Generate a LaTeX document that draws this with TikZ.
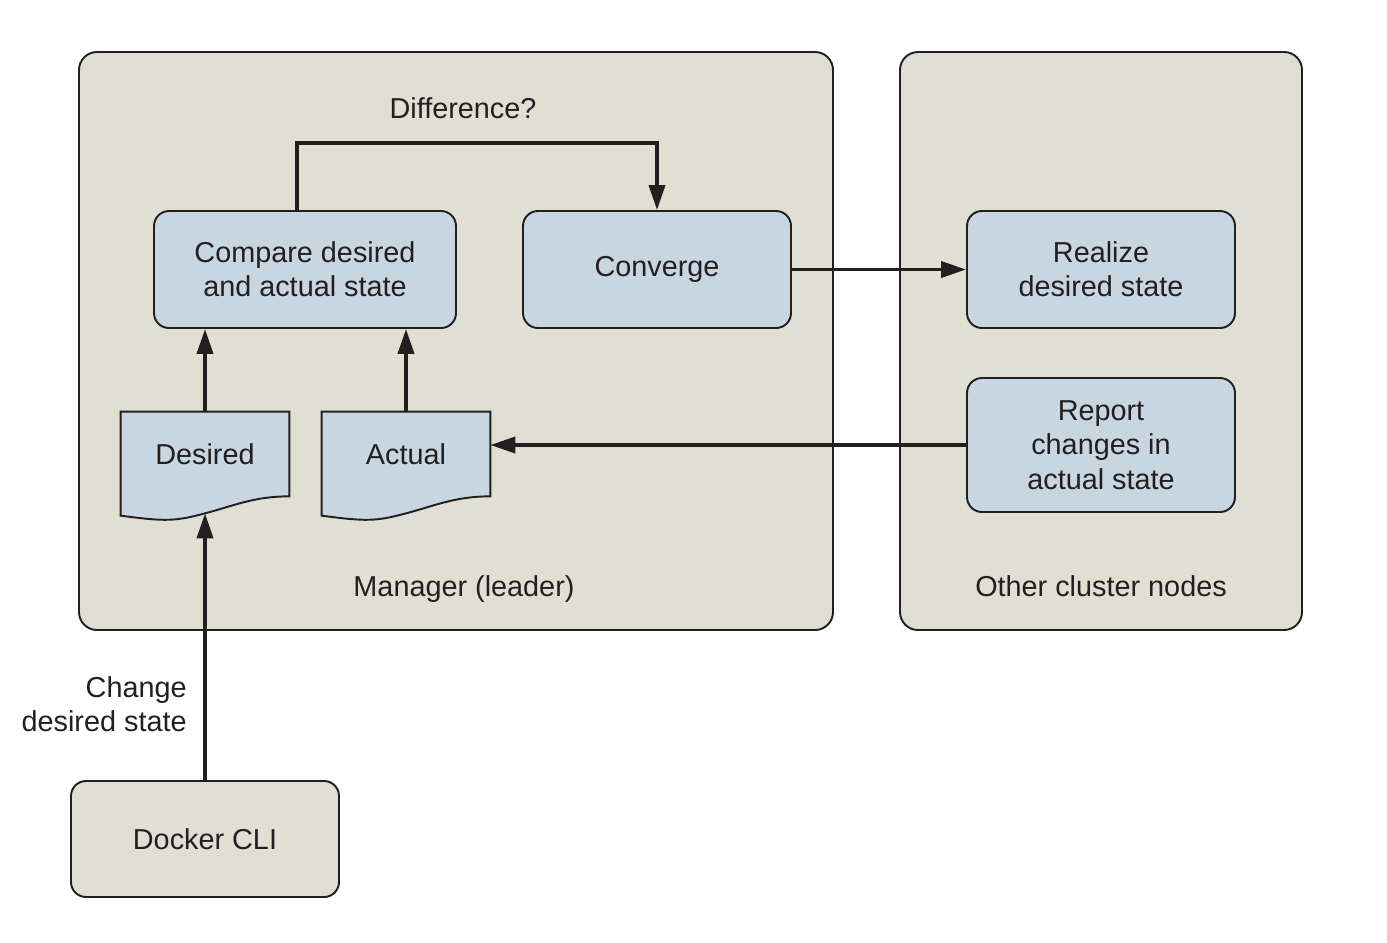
\documentclass[tikz,border=0pt]{standalone}
\usepackage{fontspec}
\setmainfont{Liberation Sans}
\usetikzlibrary{arrows.meta,positioning,calc}

\definecolor{panelfill}{RGB}{223,223,212}
\definecolor{stepfill}{RGB}{200,214,225}
\definecolor{inkline}{RGB}{35,31,32}

\begin{document}
\begin{tikzpicture}[>={Triangle[length=5mm,width=3.2mm]},
  every node/.style={font=\fontsize{16.4}{19.5}\selectfont, text=inkline},
  panel/.style={rectangle, draw=inkline, line width=1.1pt, fill=panelfill, rounded corners=3.6mm},
  stepbox/.style={rectangle, draw=inkline, line width=1.1pt, fill=stepfill, rounded corners=3mm, align=center, minimum width=5.36cm, minimum height=2.34cm, inner sep=0pt},
  docbox/.style={rectangle, minimum width=3.36cm, minimum height=1.68cm, inner sep=0pt},
  docline/.style={draw=inkline, line width=1.1pt, fill=stepfill},
  link/.style={draw=inkline, line width=2.1pt, ->}
]

  \useasboundingbox (0,0) rectangle (27.74,-18.84);

  % -- Containers --
  \node[panel, minimum width=15.08cm, minimum height=11.56cm] (manager) at (9.12,-6.82) {};
  \node[panel, minimum width=8.04cm, minimum height=11.56cm] (others) at (22.02,-6.82) {};
  \node (managerlbl) at (9.28,-11.78) {Manager (leader)};
  \node (otherslbl) at (22.02,-11.72) {Other cluster nodes};

  % -- Steps in the manager --
  \node[stepbox, minimum width=6.04cm] (compare) at (6.1,-5.39) {Compare desired\\and actual state};
  \node[stepbox] (converge) at (13.14,-5.39) {Converge};
  \node (difflbl) at (9.26,-2.16) {Difference?};

  % -- State documents --
  \node[docbox] (desired) at (4.1,-9.08) {};
  \node[docbox] (actual) at (8.12,-9.08) {};
  \foreach \d in {desired,actual}
    \draw[docline] (\d.south east) -- (\d.north east) -- (\d.north west) -- ++(0,-2.08)
      .. controls +(0.9,-0.12) and +(-0.6,-0.16) .. ([yshift=-3.4mm]\d.south)
      .. controls +(0.6,0.16) and +(-0.7,0) .. (\d.south east) -- cycle;
  \node at (desired) {Desired};
  \node at (actual) {Actual};

  % -- Other nodes --
  \node[stepbox] (realize) at (22.02,-5.39) {Realize\\desired state};
  \node[stepbox, minimum height=2.68cm] (report) at (22.02,-8.9) {Report\\changes in\\actual state};

  % -- CLI --
  \node[stepbox, fill=panelfill, minimum height=2.32cm] (cli) at (4.1,-16.78) {Docker CLI};
  \node[anchor=east, align=right, inner sep=0pt] (changelbl) at (3.74,-14.08) {Change\\desired state};

  % -- Connectors --
  \draw[link] ([xshift=-1.6mm]compare.north) -- ++(0,1.34) -| (converge.north);
  \draw[link] (converge.east) -- (realize.west);
  \draw[link] (report.west) -- (report.west -| actual.east);
  \draw[link] (desired.north) -- (desired.north |- compare.south);
  \draw[link] (actual.north) -- (actual.north |- compare.south);
  \draw[link] (cli.north) -- ([yshift=-3.4mm]desired.south);

\end{tikzpicture}
\end{document}
